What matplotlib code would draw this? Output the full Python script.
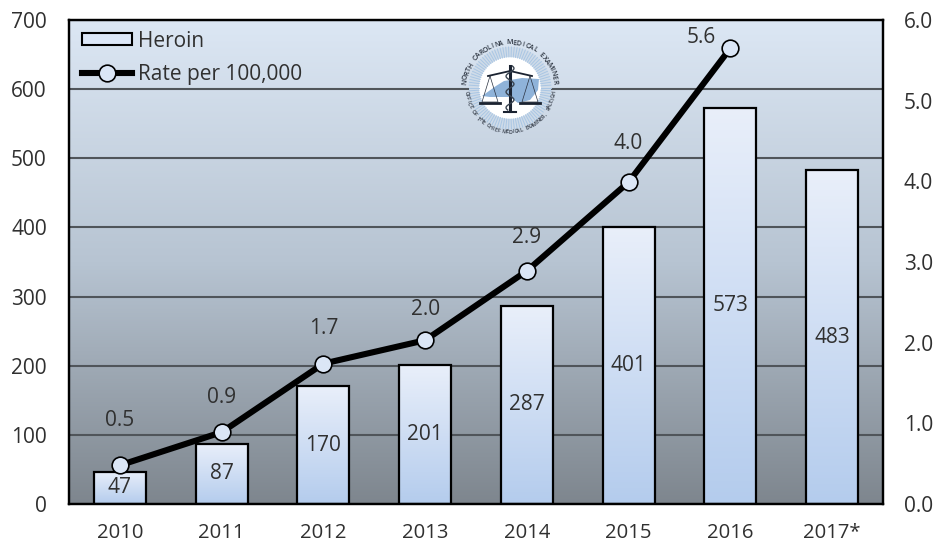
# -*- coding: utf-8 -*-
import numpy as np
import matplotlib
matplotlib.use("Agg")
import matplotlib.pyplot as plt
from matplotlib.colors import LinearSegmentedColormap
from matplotlib.lines import Line2D
from matplotlib.patches import Circle, Patch, Polygon

plt.rcParams['font.family'] = ['Open Sans', 'DejaVu Sans']

years = ["2010", "2011", "2012", "2013", "2014", "2015", "2016", "2017*"]
heroin = [47, 87, 170, 201, 287, 401, 573, 483]
rate_years = [0, 1, 2, 3, 4, 5, 6]
rate = [0.48, 0.89, 1.74, 2.03, 2.89, 3.99, 5.65]
rate_labels = ["0.5", "0.9", "1.7", "2.0", "2.9", "4.0", "5.6"]
# decalage des etiquettes du taux (en points)
label_dx = [0, 0, 0, 0, 0, 0, -21]
label_dy = [32, 25, 25, 22, 24, 28, 8]
left_ticks = [0, 100, 200, 300, 400, 500, 600, 700]
right_ticks = [0.0, 1.0, 2.0, 3.0, 4.0, 5.0, 6.0]

TXT = "#303030"
FS = 15

bg_cmap = LinearSegmentedColormap.from_list("bg", ["#dce7f4", "#b7c4d2", "#7e868e"])
bar_cmap = LinearSegmentedColormap.from_list("bar", ["#e9effa", "#b4cced"])
grad = np.linspace(0, 1, 256).reshape(-1, 1)

fig = plt.figure(figsize=(9.4, 5.45), dpi=100)
ax = fig.add_axes([69/940, 41/545, 814/940, 484/545])
ax2 = ax.twinx()

# fond en degrade
ax.imshow(grad, cmap=bg_cmap, aspect="auto", extent=(-0.5, 7.5, 0, 700), zorder=0)
ax.set_axisbelow(True)
ax.yaxis.grid(True, color="#50555a", lw=1.5)
ax.xaxis.grid(False)

# barres avec degrade
bars = ax.bar(range(len(years)), heroin, width=0.51, facecolor="none",
              edgecolor="black", lw=1.6, zorder=3)
for b in bars:
    x0, w, h = b.get_x(), b.get_width(), b.get_height()
    im = ax.imshow(grad, cmap=bar_cmap, aspect="auto",
                   extent=(x0, x0 + w, 0, h), zorder=2)
    im.set_clip_path(b)
for i, v in enumerate(heroin):
    ax.text(i, v / 2, str(v), ha="center", va="center", fontsize=FS,
            color=TXT, zorder=4)

ax.set_xlim(-0.5, 7.5)
ax.set_ylim(0, 700)
ax.set_xticks(range(len(years)))
ax.set_xticklabels(years)
ax.set_yticks(left_ticks)
ax.tick_params(axis="x", length=0, pad=13.5, labelsize=FS - 0.4, labelcolor=TXT)
ax.tick_params(axis="y", length=0, pad=16, labelsize=FS, labelcolor=TXT)

# taux sur l'axe de droite
ax2.plot(rate_years, rate, color="black", lw=4.4, marker="o", ms=12,
         mfc="#dbe6f6", mec="black", mew=1.2, solid_capstyle="round", zorder=5)
for i, v in enumerate(rate):
    ax2.annotate(rate_labels[i], (rate_years[i], v),
                 xytext=(label_dx[i], label_dy[i]), textcoords="offset points",
                 ha="center", va="center", fontsize=FS, color=TXT, zorder=6)
ax2.set_ylim(0, 6)
ax2.set_yticks(right_ticks)
ax2.set_yticklabels(["%.1f" % t for t in right_ticks])
ax2.tick_params(axis="y", length=0, pad=15, labelsize=FS, labelcolor=TXT)
ax2.grid(False)

for a in (ax, ax2):
    for s in a.spines.values():
        s.set_linewidth(1.6)
        s.set_color("black")

handles = [Patch(facecolor="#dde8f8", edgecolor="black", lw=1.5, label="Heroin"),
           Line2D([0], [0], color="black", lw=4.4, marker="o", ms=12,
                  mfc="#dbe6f6", mec="black", mew=1.2, label="Rate per 100,000")]
leg = ax2.legend(handles=handles, loc="upper left", bbox_to_anchor=(0.009, 0.989),
                 frameon=False, fontsize=FS, handlelength=2.4, handleheight=0.55,
                 handletextpad=0.3, labelspacing=0.6, borderpad=0.25,
                 borderaxespad=0.0, labelcolor=TXT)
leg.set_zorder(7)

# sceau du medecin legiste
logo = fig.add_axes([(510-52)/940, (545-88-52)/545, 104/940, 104/545], zorder=8)
logo.set_xlim(-52, 52)
logo.set_ylim(-52, 52)
logo.axis("off")
logo.patch.set_alpha(0)
logo.add_patch(Circle((0, 0), 41, fc="#cfdbe8", ec="none"))
for t in np.linspace(0, 2*np.pi, 90, endpoint=False):
    logo.plot([31*np.cos(t), 41*np.cos(t)], [31*np.sin(t), 41*np.sin(t)],
              color="#a9c6e4", lw=0.7)
logo.add_patch(Circle((0, 0), 31, fc="white", ec="none"))
nc_map = [(-28, -8), (-14, 2), (-6, 7), (12, 10), (29, 9), (28, -2), (20, -12),
          (8, -15), (0, -9), (-12, -9), (-20, -9)]
logo.add_patch(Polygon(nc_map, fc="#8fb3d9", ec="none"))
# balance
logo.plot([-22, 0, 22], [12, 17, 12], color="#1a2230", lw=1.3)
for sx in (-20, 20):
    logo.plot([sx, sx-8, sx+8, sx], [12, -14, -14, 12], color="#2a3240", lw=0.5)
    logo.plot([sx-10, sx+10], [-15, -15], color="#1a2230", lw=2)
logo.plot([0, 0], [22, -23], color="#1a2230", lw=2.2)
sy = np.arange(-22, 23, 1.0)
logo.plot(4*np.sin(sy/2.5), sy, color="#3a4450", lw=1)
logo.plot([-6, 6], [-24, -24], color="#1a2230", lw=1.5)


def arc_text(txt, radius, start, stop, size, flip=False):
    for ch, ang in zip(txt, np.linspace(start, stop, len(txt))):
        r = np.deg2rad(ang)
        rot = ang + 90 if flip else ang - 90
        logo.text(radius*np.cos(r), radius*np.sin(r), ch, fontsize=size,
                  fontweight="semibold", color="#2c3440", ha="center", va="center",
                  rotation=rot, rotation_mode="anchor")


arc_text("NORTH CAROLINA MEDICAL EXAMINER", 45, 172, 8, 5)
arc_text("OFFICE OF THE CHIEF MEDICAL EXAMINER, RALEIGH", 44, 186, 354, 3.8, flip=True)

fig.savefig("out.png", dpi=100)
